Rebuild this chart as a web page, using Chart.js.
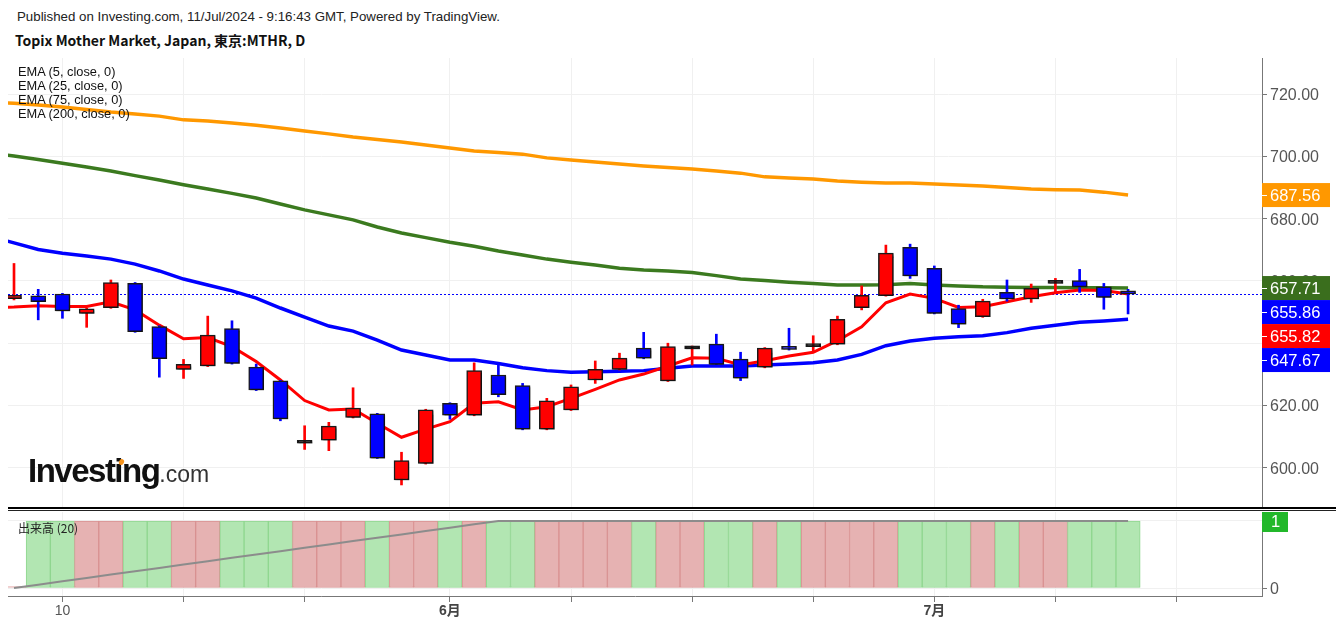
<!DOCTYPE html>
<html>
<head>
<meta charset="utf-8">
<script src="https://cdn.jsdelivr.net/npm/chart.js@4.4.1/dist/chart.umd.min.js"></script>
<style>
  body { margin:0; background:#fff; width:1336px; height:627px; overflow:hidden; position:relative;
         font-family:"Liberation Sans", Arial, sans-serif; }
  #pub { position:absolute; left:17px; top:9px; font-size:13.3px; color:#222; white-space:nowrap; }
  #ttl { position:absolute; left:15px; top:30px; font-size:14px; font-weight:bold; color:#111; white-space:nowrap;
         font-family:"Noto Sans CJK JP", sans-serif; }
  .ema { position:absolute; left:18px; font-size:12.8px; color:#111; line-height:14px; white-space:nowrap; }
  #logo { position:absolute; left:28px; top:452px; white-space:nowrap; color:#111; }
  #logo b { font-size:33px; letter-spacing:-1.5px; }
  #logo span { font-size:23px; color:#333; }
  #dot { position:absolute; left:119px; top:459px; width:5px; height:6px; background:#f7941d;
         border-radius:50%; transform:rotate(25deg); }
  #volLbl { position:absolute; left:18px; top:519px; font-size:12px; color:#222;
            font-family:"Noto Sans CJK JP", sans-serif; }
  #sep { position:absolute; left:8px; top:507px; width:1328px; height:1px;
         border-top:2px solid #000; border-bottom:1px solid #222; }
  canvas { position:absolute; left:0; }
</style>
</head>
<body>
<div id="pub">Published on Investing.com, 11/Jul/2024 - 9:16:43 GMT, Powered by TradingView.</div>
<div id="ttl">Topix Mother Market, Japan, 東京:MTHR, D</div>

<canvas id="main" width="1336" height="450" style="top:58px"></canvas>
<canvas id="vol" width="1336" height="115" style="top:512px"></canvas>

<div class="ema" style="top:65px">EMA (5, close, 0)</div>
<div class="ema" style="top:79px">EMA (25, close, 0)</div>
<div class="ema" style="top:93px">EMA (75, close, 0)</div>
<div class="ema" style="top:107px">EMA (200, close, 0)</div>
<div id="logo"><b>Investing</b><span>.com</span></div>
<div id="dot"></div>
<div id="sep"></div>
<div id="volLbl">出来高 (20)</div>

<script>
// trading days 8 May - 11 Jul 2024
var dates = ['5/8','5/9','5/10','5/13','5/14','5/15','5/16','5/17','5/20','5/21','5/22','5/23','5/24',
  '5/27','5/28','5/29','5/30','5/31','6/3','6/4','6/5','6/6','6/7','6/10','6/11','6/12','6/13','6/14',
  '6/17','6/18','6/19','6/20','6/21','6/24','6/25','6/26','6/27','6/28','7/1','7/2','7/3','7/4','7/5',
  '7/8','7/9','7/10','7/11'];

var opens  = [654.3,655.2,655.8,649.6,651.4,659.2,645.3,631.6,632.7,644.7,632.3,627.9,607.9,608.9,616.2,617.3,
  596.1,601.4,620.7,616.9,629.8,626.4,612.4,618.6,628.2,631.6,638.4,627.9,638.2,639.7,634.9,632.3,639.0,638.9,
  639.7,651.4,655.3,670.8,664.0,651.1,648.5,656.3,654.2,659.2,660.1,658.1,656.1];
var highs  = [665.6,657.3,656.0,651.2,660.3,659.5,645.6,634.8,648.7,647.2,633.3,628.1,613.5,614.6,625.7,617.5,
  605.0,618.8,620.9,633.7,633.0,627.1,622.3,626.6,634.3,636.8,643.5,640.0,639.1,642.9,637.1,638.6,644.8,642.4,
  648.7,658.4,671.5,671.8,664.8,652.2,654.1,660.3,659.0,660.8,663.7,659.2,657.3];
var lows   = [653.9,647.5,648.0,645.1,651.2,643.5,629.1,628.7,632.5,633.3,624.8,615.1,605.9,605.5,616.0,603.0,
  594.5,601.2,615.6,616.7,622.8,612.2,612.2,618.4,627.1,631.4,635.0,627.7,633.0,633.0,628.0,632.1,637.8,637.6,
  639.5,650.7,655.1,660.8,649.4,645.0,648.3,653.5,653.1,656.5,656.3,650.9,649.4];
var closes = [655.4,653.3,650.4,651.0,659.5,643.7,635.0,633.2,642.6,633.5,625.0,615.7,607.9,613.4,619.2,603.1,
  602.3,618.6,616.9,631.2,623.5,612.4,621.5,626.0,631.6,635.2,635.2,638.9,638.2,633.2,628.8,638.4,638.0,638.9,
  647.7,655.4,668.9,661.6,649.6,646.1,653.5,654.2,657.6,659.2,658.1,654.7,655.86];

// EMA values, index 0 = the day before the first candle
var ema5   = [651.4,651.6,652.0,651.8,651.8,653.3,650.7,645.8,641.4,641.8,638.9,634.1,628.2,621.6,618.6,618.9,
  614.3,609.8,612.4,614.8,620.7,621.2,618.6,619.6,622.3,625.2,628.2,630.1,632.7,635.3,635.2,633.0,634.4,635.9,
  637.1,640.8,645.3,653.0,655.8,654.4,651.5,651.7,653.3,654.9,656.2,657.1,656.9,655.82];
var ema25  = [674.4,672.2,670.1,668.9,668.0,667.0,665.4,663.2,660.6,658.7,656.8,654.5,651.3,648.4,645.5,643.9,
  641.0,637.8,636.2,634.6,634.6,633.5,632.1,631.2,630.7,630.8,631.0,631.2,632.0,632.7,632.7,632.7,633.0,633.3,
  633.7,634.6,636.4,639.2,640.7,641.6,642.1,642.4,643.4,644.8,645.8,646.7,647.1,647.67];
var ema75  = [701.0,700.1,699.0,697.8,696.6,695.3,693.8,692.4,690.9,689.5,688.1,686.6,684.7,682.8,681.2,679.6,
  677.3,675.4,673.9,672.4,671.1,669.6,668.3,667.0,666.0,665.1,664.1,663.5,663.2,662.7,661.7,660.6,660.1,659.6,
  659.2,658.7,658.7,658.8,659.2,658.7,658.4,658.1,658.0,657.9,657.9,657.8,657.8,657.71];
var ema200 = [717.5,717.0,716.5,715.8,715.0,714.2,713.6,712.9,711.7,711.3,710.7,710.0,709.1,708.1,707.2,706.2,
  705.4,704.6,703.6,702.7,701.7,701.2,700.7,699.5,698.8,698.2,697.5,696.9,696.4,695.9,695.3,694.6,693.4,693.0,
  692.7,692.1,691.7,691.4,691.4,691.1,690.8,690.5,690.0,689.5,689.3,689.2,688.5,687.56];

var volumes = [0.02,1,1,1,1,1,1,1,1,1,1,1,1,1,1,1,1,1,1,1,1,1,1,1,1,1,1,1,1,1,1,1,1,1,1,1,1,1,1,1,1,1,1,1,1,1,1];
var volMA   = [0,0.05,0.10,0.15,0.20,0.25,0.30,0.35,0.40,0.45,0.50,0.55,0.60,0.65,0.70,0.75,0.80,0.85,0.90,0.95,
  1,1,1,1,1,1,1,1,1,1,1,1,1,1,1,1,1,1,1,1,1,1,1,1,1,1,1];

var priceTicks = [600, 620, 640, 660, 680, 700, 720];
var volTicks = [0, 1];
// x grid on candle numbers (10 May, 17 May, 24 May, 3 Jun, ...)
var xGridAt  = [3, 8, 13, 19, 24, 29, 34, 39, 44, 49];
var xLabels  = ['10', '', '', '6月', '', '', '', '7月', '', ''];

var UP = '#ff0000', DOWN = '#0000ff';
var xMin = 0.752, xMax = 52.53;

function candleColor(i) {
  if (closes[i] > opens[i]) return UP;
  if (closes[i] < opens[i]) return DOWN;
  return '#000';
}

var bodies = opens.map(function (o, i) { return { x: i + 1, y: [o, closes[i]] }; });
var wicks = highs.map(function (h, i) { return { x: i + 1, y: [lows[i], h] }; });
function line(arr) { return arr.map(function (v, i) { return { x: i, y: v }; }); }

var noPad = function (s) { s.paddingTop = 0; s.paddingBottom = 0; s.paddingLeft = 0; s.paddingRight = 0; };

var shadowPlug = {
  id: 'shadowPlug',
  beforeDatasetDraw: function (chart, args) {
    if (args.index !== 0) return;
    var c = chart.ctx;
    c.save();
    c.shadowColor = 'rgba(0,0,0,0.35)';
    c.shadowOffsetX = 1.5;
    c.shadowOffsetY = 1.5;
    c.shadowBlur = 1;
  },
  afterDatasetDraw: function (chart, args) {
    if (args.index === 0) chart.ctx.restore();
  }
};

var tagPlug = {
  id: 'tagPlug',
  beforeDatasetsDraw: function (chart) {
    var c = chart.ctx, a = chart.chartArea, y = chart.scales.y.getPixelForValue(closes[closes.length - 1]);
    c.save();
    c.strokeStyle = '#0000ff';
    c.lineWidth = 1;
    c.setLineDash([2, 2]);
    c.beginPath();
    c.moveTo(a.left, Math.round(y) + 0.5);
    c.lineTo(a.right, Math.round(y) + 0.5);
    c.stroke();
    c.restore();
  },
  afterDraw: function (chart) {
    var c = chart.ctx, a = chart.chartArea, ys = chart.scales.y;
    var tags = [
      { v: ema200[ema200.length - 1], col: '#ff9800' },
      { v: ema75[ema75.length - 1], col: '#3a6e1d' },
      { v: closes[closes.length - 1], col: '#0000ff' },
      { v: ema5[ema5.length - 1], col: '#ff0000' },
      { v: ema25[ema25.length - 1], col: '#0000ff' }
    ];
    tags.sort(function (p, q) { return q.v - p.v; });
    var h = 24, prev = -999;
    c.save();
    c.font = '16.5px "Liberation Sans", Arial, sans-serif';
    c.textBaseline = 'middle';
    tags.forEach(function (t) {
      var y = ys.getPixelForValue(t.v);
      if (y < prev + h) y = prev + h;
      prev = y;
      c.fillStyle = t.col;
      c.fillRect(a.right, y - h / 2, 68, h);
      c.strokeStyle = '#fff';
      c.lineWidth = 1;
      c.beginPath();
      c.moveTo(a.right, Math.round(y) + 0.5);
      c.lineTo(a.right + 5, Math.round(y) + 0.5);
      c.stroke();
      c.fillStyle = '#fff';
      c.fillText(t.v.toFixed(2), a.right + 8, y + 1);
    });
    c.restore();
  }
};

new Chart(document.getElementById('main'), {
  type: 'bar',
  data: {
    datasets: [
      { type: 'bar', data: bodies, order: 0, grouped: false, barThickness: 15, minBarLength: 3,
        backgroundColor: bodies.map(function (b, i) { return candleColor(i); }),
        borderColor: '#1a1a1a', borderWidth: 1.5, borderSkipped: false },
      { type: 'bar', data: wicks, order: 1, grouped: false, barThickness: 2,
        backgroundColor: wicks.map(function (w, i) { return closes[i] >= opens[i] ? UP : DOWN; }) },
      { type: 'line', data: line(ema5), order: 2, borderColor: '#ff0000', borderWidth: 3, pointRadius: 0, clip: 0 },
      { type: 'line', data: line(ema25), order: 3, borderColor: '#0000ff', borderWidth: 3.5, pointRadius: 0, clip: 0 },
      { type: 'line', data: line(ema75), order: 4, borderColor: '#3b7a1f', borderWidth: 3.5, pointRadius: 0, clip: 0 },
      { type: 'line', data: line(ema200), order: 5, borderColor: '#ff9800', borderWidth: 3.5, pointRadius: 0, clip: 0 }
    ]
  },
  options: {
    responsive: false, animation: false, events: [],
    layout: { padding: { left: 8, right: 0, top: 0, bottom: 0 } },
    plugins: { legend: { display: false }, tooltip: { enabled: false } },
    scales: {
      x: { type: 'linear', min: xMin, max: xMax, offset: false,
           afterBuildTicks: function (s) { s.ticks = xGridAt.map(function (v) { return { value: v }; }); },
           afterFit: function (s) { s.height = 0; noPad(s); },
           ticks: { display: false }, grid: { color: '#f0f0f0', drawTicks: false, offset: false },
           border: { display: false } },
      y: { position: 'right', min: 587.1, max: 731.56,
           afterBuildTicks: function (s) { s.ticks = priceTicks.map(function (v) { return { value: v }; }); },
           afterFit: function (s) { s.width = 74; noPad(s); },
           ticks: { color: '#555', font: { size: 16, family: '"Liberation Sans", Arial' }, padding: 3, labelOffset: 1.5,
                    callback: function (v) { return Number(v).toFixed(2); } },
           grid: { color: '#f0f0f0', tickColor: '#777', tickLength: 5 },
           border: { color: '#777' } }
    }
  },
  plugins: [shadowPlug, tagPlug]
});

var volTag = {
  id: 'volTag',
  afterDraw: function (chart) {
    var c = chart.ctx, a = chart.chartArea, y = chart.scales.y.getPixelForValue(volTicks[1]);
    c.save();
    c.fillStyle = '#22b82a';
    c.fillRect(a.right, y - 11, 26, 22);
    c.fillStyle = '#fff';
    c.font = '16.5px "Liberation Sans", Arial, sans-serif';
    c.textBaseline = 'middle';
    c.fillText('1', a.right + 9, y + 1);
    c.restore();
  }
};

new Chart(document.getElementById('vol'), {
  type: 'bar',
  data: {
    datasets: [
      { type: 'line', data: volMA.map(function (v, i) { return { x: i + 1, y: v }; }), order: 0,
        borderColor: '#8c8c8c', borderWidth: 2, pointRadius: 0, clip: 0 },
      { type: 'bar', data: volumes.map(function (v, i) { return { x: i + 1, y: v }; }), order: 1,
        categoryPercentage: 1, barPercentage: 1, borderWidth: 1, borderSkipped: false,
        backgroundColor: volumes.map(function (v, i) { return closes[i] >= opens[i] ? '#e6b2b2' : '#b2e6b2'; }),
        borderColor: volumes.map(function (v, i) { return closes[i] >= opens[i] ? '#d99191' : '#8fd68f'; }) }
    ]
  },
  options: {
    responsive: false, animation: false, events: [],
    layout: { padding: { left: 8, right: 0, top: 0, bottom: 0 } },
    plugins: { legend: { display: false }, tooltip: { enabled: false } },
    scales: {
      x: { type: 'linear', min: xMin, max: xMax, offset: false,
           afterBuildTicks: function (s) { s.ticks = xGridAt.map(function (v) { return { value: v }; }); },
           afterFit: function (s) { s.height = 31; noPad(s); },
           ticks: { autoSkip: false, maxRotation: 0, padding: 1,
                    color: function (c) { return xLabels[c.index] && xLabels[c.index].indexOf('月') > 0 ? '#444' : '#555'; },
                    font: function (c) {
                      var bold = xLabels[c.index] && xLabels[c.index].indexOf('月') > 0;
                      return { size: 14, weight: bold ? 'bold' : 'normal', family: '"Liberation Sans", "Noto Sans CJK JP", sans-serif' };
                    },
                    callback: function (v, i) { return xLabels[i]; } },
           grid: { color: '#f0f0f0', tickColor: '#777', tickLength: 6, offset: false },
           border: { color: '#777' } },
      y: { position: 'right', min: -0.119, max: 1.134,
           afterBuildTicks: function (s) { s.ticks = volTicks.map(function (v) { return { value: v }; }); },
           afterFit: function (s) { s.width = 74; noPad(s); },
           ticks: { color: '#555', font: { size: 16, family: '"Liberation Sans", Arial' }, padding: 3, labelOffset: 1.5 },
           grid: { color: '#f0f0f0', tickColor: '#777', tickLength: 5 },
           border: { color: '#777' } }
    }
  },
  plugins: [volTag]
});
</script>
</body>
</html>
